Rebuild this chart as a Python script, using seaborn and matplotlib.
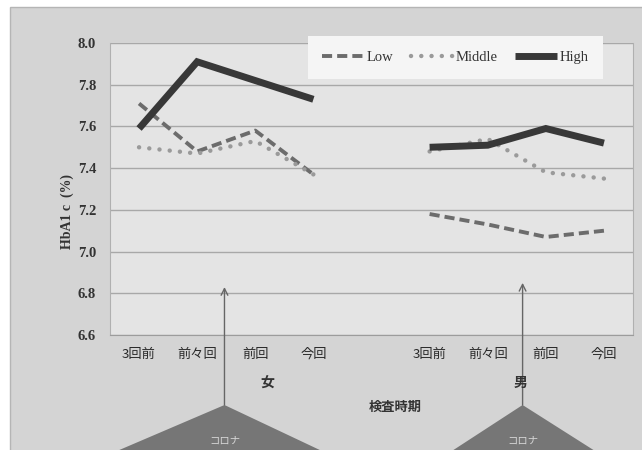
import matplotlib
matplotlib.use("Agg")
import matplotlib.pyplot as plt
import matplotlib.transforms as mtransforms
from matplotlib.patches import Polygon, Rectangle
import numpy as np
import pandas as pd
import seaborn as sns

# HbA1c by exam period, per sex and control level
periods = ["3回前", "前々回", "前回", "今回"]
sexes = ["女", "男"]
levels = ["Low", "Middle", "High"]

low_f = [7.71, 7.48, 7.58, 7.37]
mid_f = [7.50, 7.47, 7.53, 7.37]
high_f = [7.59, 7.91, 7.82, 7.73]
low_m = [7.18, 7.13, 7.07, 7.10]
mid_m = [7.48, 7.54, 7.38, 7.35]
high_m = [7.50, 7.51, 7.59, 7.52]

yticks = [6.6, 6.8, 7.0, 7.2, 7.4, 7.6, 7.8, 8.0]

# COVID onset markers (x in slot units, arrow tip in HbA1c units)
covid_x = [1.47, 6.6]
covid_tip = [6.83, 6.85]

values = {
    ("女", "Low"): low_f, ("女", "Middle"): mid_f, ("女", "High"): high_f,
    ("男", "Low"): low_m, ("男", "Middle"): mid_m, ("男", "High"): high_m,
}
rows = []
for si, sex in enumerate(sexes):
    for lv in levels:
        for k, (p, v) in enumerate(zip(periods, values[(sex, lv)])):
            rows.append({"pos": si * 5 + k, "period": p, "sex": sex,
                         "level": lv, "HbA1c": v})
df = pd.DataFrame(rows)

sns.set_style("white")
plt.rcParams["font.family"] = ["Liberation Serif", "Noto Sans CJK JP"]
JP = ["Noto Sans CJK JP", "DejaVu Sans"]

W, H = 642, 450
fig = plt.figure(figsize=(W / 100, H / 100), dpi=100)
fig.patch.set_facecolor("white")
fig.add_artist(Rectangle((10 / W, -0.01), 1.0, 1 - 7 / H + 0.01,
                         transform=fig.transFigure, facecolor="#d4d4d4",
                         edgecolor="#b5b5b5", lw=1, zorder=-10))

ax = fig.add_axes([110 / W, 1 - 335 / H, (633 - 110) / W, (335 - 43) / H])
ax.set_facecolor("#e4e4e4")

styles = {
    "Low": dict(color="#6c6c6c", linewidth=2.8, linestyle=(0, (2.6, 1.3)),
                dash_capstyle="butt"),
    "Middle": dict(color="#9a9a9a", linewidth=3.2, linestyle=(0, (0.01, 2.3)),
                   dash_capstyle="round"),
    "High": dict(color="#383838", linewidth=5.0, linestyle="-",
                 solid_capstyle="butt", solid_joinstyle="miter"),
}

for lv in levels:
    for sex in sexes:
        sub = df[(df["level"] == lv) & (df["sex"] == sex)]
        sns.lineplot(data=sub, x="pos", y="HbA1c", ax=ax, legend=False,
                     estimator=None, sort=False,
                     label=lv if sex == "女" else "_nolegend_",
                     **styles[lv])

ax.set_xlim(-0.5, 8.5)
ax.set_ylim(6.6, 8.0)
ax.set_yticks(yticks)
ax.set_yticklabels([f"{t:.1f}" for t in yticks])
ax.yaxis.grid(True, color="#a8a8a8", lw=1)
ax.set_axisbelow(True)
ax.set_xticks([0, 1, 2, 3, 5, 6, 7, 8])
ax.set_xticklabels(periods * 2, family=JP, fontsize=9.5, color="#2a2a2a")
ax.tick_params(axis="y", length=0, pad=10, labelsize=10.5, labelcolor="#333333")
ax.tick_params(axis="x", length=0, pad=9)
for lab in ax.get_yticklabels():
    lab.set_fontweight("bold")
ax.set_xlabel("")
ax.set_ylabel("")
for side in ["left", "right"]:
    ax.spines[side].set_color("#b0b0b0")
    ax.spines[side].set_linewidth(0.8)
ax.spines["top"].set_visible(False)
ax.spines["bottom"].set_color("#9c9c9c")

# axis titles and group labels
fig.text(67 / W, 1 - 212 / H, "HbA1 c  (%)", rotation=90, ha="center",
         va="center", fontsize=10, fontweight="bold", color="#333333",
         family=["Liberation Serif", "DejaVu Sans"])
fig.text(267 / W, 1 - 383 / H, "女", ha="center", va="center", fontsize=10,
         fontweight="bold", family=JP, color="#333333")
fig.text(521 / W, 1 - 383 / H, "男", ha="center", va="center", fontsize=10,
         fontweight="bold", family=JP, color="#333333")
fig.text(395 / W, 1 - 407 / H, "検査時期", ha="center", va="center",
         fontsize=9.5, fontweight="bold", family=JP, color="#333333")

# COVID triangles with arrows
blend = mtransforms.blended_transform_factory(ax.transData, fig.transFigure)
tri_half = [(-1.81, 1.64), (-1.19, 1.22)]
apex_y = 1 - 405 / H
for cx, tip, (dl, dr) in zip(covid_x, covid_tip, tri_half):
    fig.add_artist(Polygon([[cx, apex_y], [cx + dl, 0.0], [cx + dr, 0.0]],
                           closed=True, transform=blend, facecolor="#767676",
                           edgecolor="none", zorder=-1))
    fig.text(cx, 1 - 441 / H, "コロナ", transform=blend, ha="center",
             va="center", fontsize=7.5, color="#d6d6d6", family=JP)
    ax.annotate("", xy=(cx, tip), xycoords="data",
                xytext=(cx, apex_y), textcoords=("data", "figure fraction"),
                arrowprops=dict(arrowstyle="->", color="#666666", lw=1,
                                shrinkA=0, shrinkB=0, mutation_scale=12),
                annotation_clip=False)

handles, labels = ax.get_legend_handles_labels()
leg = fig.legend(handles, labels, loc="center",
                 bbox_to_anchor=(455.5 / W, 1 - 57.5 / H), ncol=3,
                 fontsize=10.5, handlelength=2.9, handletextpad=0.15,
                 columnspacing=1.2, borderpad=1.0, fancybox=False,
                 frameon=True, framealpha=1)
leg.get_frame().set_facecolor("#f5f5f5")
leg.get_frame().set_edgecolor("none")
for t in leg.get_texts():
    t.set_color("#333333")

fig.savefig("out.png", dpi=100)
